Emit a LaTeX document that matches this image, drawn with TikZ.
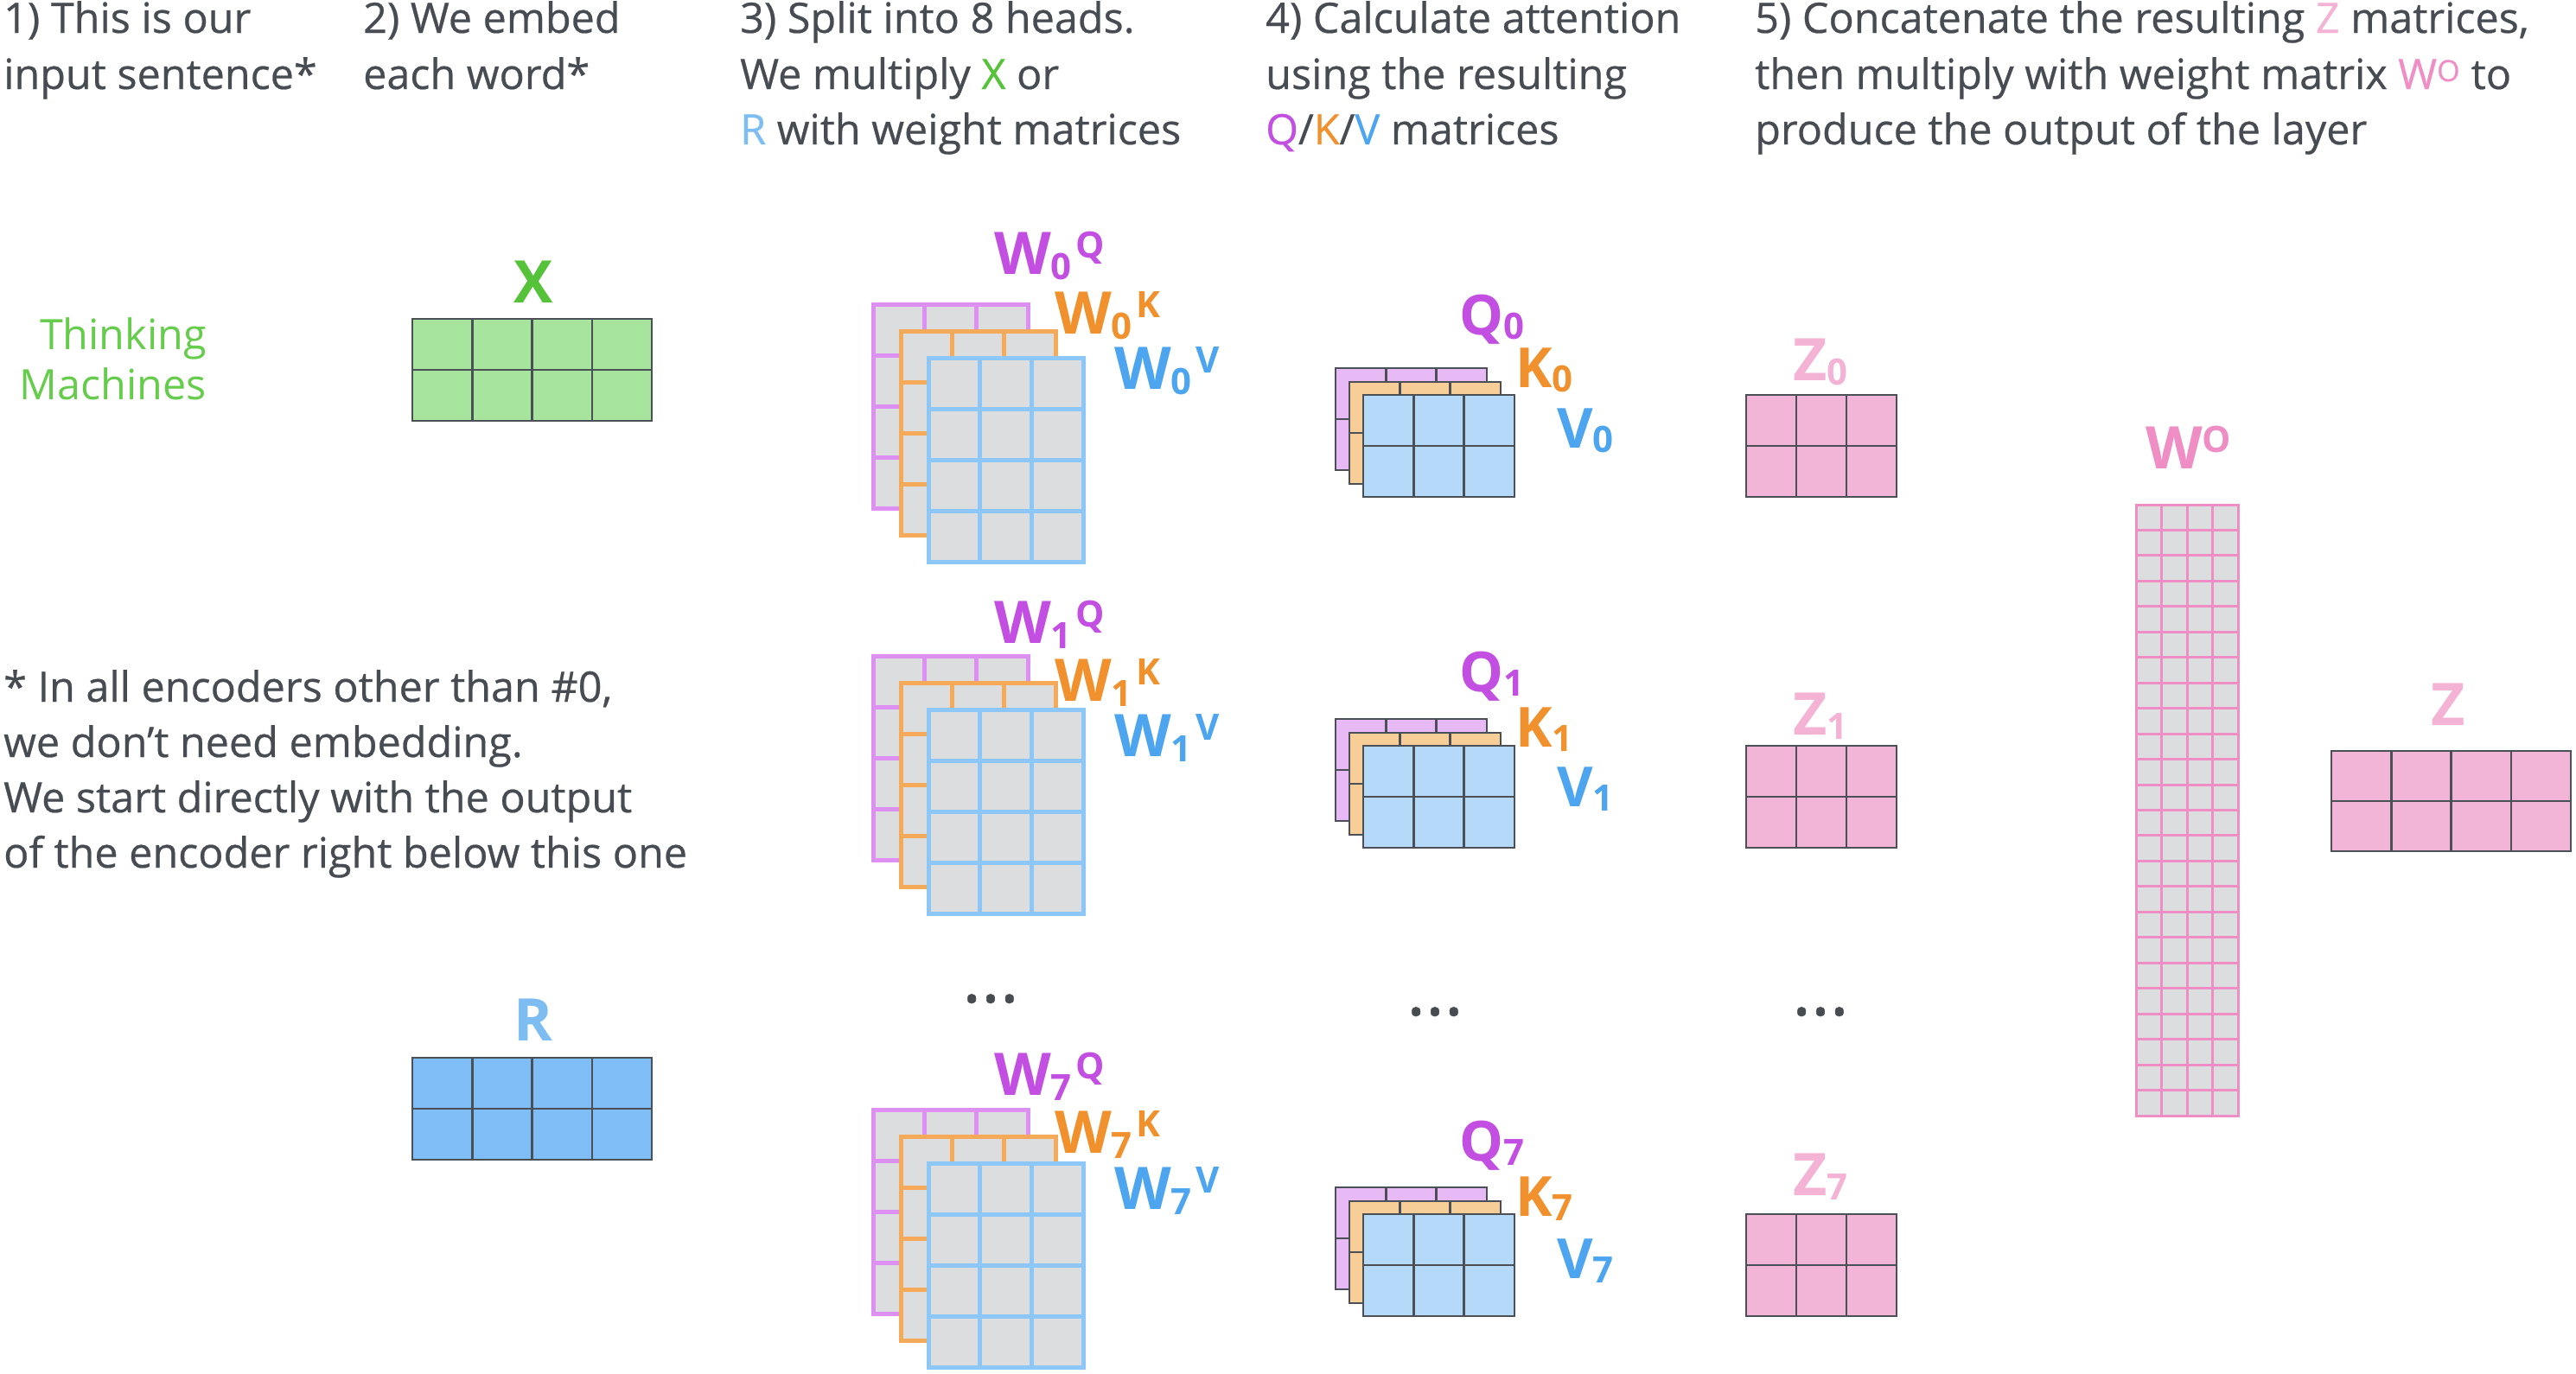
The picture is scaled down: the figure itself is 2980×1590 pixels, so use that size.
\documentclass[tikz,border=0pt]{standalone}
\usepackage{fontspec}
\setmainfont{Open Sans}
\newfontfamily\bodyfont{Open Sans}[FakeBold=0.5]
\definecolor{txt}{HTML}{474B52}
\definecolor{tgreen}{HTML}{66CC4C}
\definecolor{xgreen}{HTML}{55C23A}
\definecolor{xfill}{HTML}{A7E49D}
\definecolor{rfill}{HTML}{7FBDF6}
\definecolor{rlabel}{HTML}{7DBDF2}
\definecolor{cpur}{HTML}{C24FE2}
\definecolor{cora}{HTML}{F0912E}
\definecolor{cblu}{HTML}{4DA5F0}
\definecolor{spur}{HTML}{DE8FF2}
\definecolor{sora}{HTML}{F5AA5A}
\definecolor{sblu}{HTML}{8DC7F7}
\definecolor{wgray}{HTML}{DCDDDF}
\definecolor{fpur}{HTML}{E7B9F5}
\definecolor{fora}{HTML}{F8CE98}
\definecolor{fblu}{HTML}{B4D9F9}
\definecolor{zfill}{HTML}{F3B5D7}
\definecolor{zlab}{HTML}{F4B3D4}
\definecolor{wopink}{HTML}{EF8DC5}
\definecolor{gridc}{HTML}{4B4F56}
\newcommand{\mygrid}[9]{%
  \fill[#7] (#1,#2) rectangle ++(#3,#4);
  \pgfmathtruncatemacro{\ncm}{#5-1}%
  \pgfmathtruncatemacro{\nrm}{#6-1}%
  \foreach \ii in {1,...,\ncm}{\draw[#8,line width=#9] ({#1+\ii*(#3)/(#5)},{#2}) -- ++(0,#4);}%
  \foreach \jj in {1,...,\nrm}{\draw[#8,line width=#9] ({#1},{#2+\jj*(#4)/(#6)}) -- ++(#3,0);}%
  \draw[#8,line width=#9] (#1,#2) rectangle ++(#3,#4);}
\newcommand{\wstack}[1]{%
  \mygrid{1010}{#1}{179}{236}{3}{4}{wgray}{spur}{5pt}
  \mygrid{1042}{#1+31}{179}{236}{3}{4}{wgray}{sora}{5pt}
  \mygrid{1074}{#1+62}{179}{236}{3}{4}{wgray}{sblu}{5pt}}
\newcommand{\qstack}[1]{%
  \mygrid{1545}{#1}{175}{118}{3}{2}{fpur}{gridc}{2.5pt}
  \mygrid{1561}{#1+16}{175}{118}{3}{2}{fora}{gridc}{2.5pt}
  \mygrid{1577}{#1+31}{175}{118}{3}{2}{fblu}{gridc}{2.5pt}}
\newcommand{\wlab}[2]{W\raisebox{-6pt}{\fontsize{42}{42}\selectfont #1}\hspace{5pt}\raisebox{19pt}{\fontsize{42}{42}\selectfont #2}}
\newcommand{\sublab}[2]{#1\raisebox{-5pt}{\fontsize{42}{42}\selectfont #2}}
\begin{document}
\begin{tikzpicture}[x=1pt,y=-1pt,
  hdr/.style={anchor=base west,inner sep=0,text=txt,font=\bodyfont\fontsize{48.5}{64}\selectfont},
  lbl/.style={anchor=base west,inner sep=0,font=\fontsize{68}{68}\selectfont\bfseries},
  qlbl/.style={lbl,font=\fontsize{64}{64}\selectfont\bfseries},
  dots/.style={anchor=base,inner sep=0,text=txt,font=\bodyfont\fontsize{82}{82}\selectfont}]
\useasboundingbox (0,0) rectangle (2980,1590);
% headers
\node[hdr] (h1a) at (4,38) {1) This is our};
\node[hdr] (h1b) at (4,103) {input sentence*};
\node[hdr] (h2a) at (420,38) {2) We embed};
\node[hdr] (h2b) at (420,103) {each word*};
\node[hdr] (h3a) at (856,38) {3) Split into 8 heads.};
\node[hdr] (h3b) at (856,103) {We multiply \textcolor{xgreen}{X} or};
\node[hdr] (h3c) at (856,167) {\textcolor{rlabel}{R} with weight matrices};
\node[hdr] (h4a) at (1464,38) {4) Calculate attention};
\node[hdr] (h4b) at (1464,103) {using the resulting};
\node[hdr] (h4c) at (1464,167) {\textcolor{cpur}{Q}/\textcolor{cora}{K}/\textcolor{cblu}{V} matrices};
\node[hdr] (h5a) at (2030,38) {5) Concatenate the resulting \textcolor{zlab}{Z} matrices,};
\node[hdr] (h5b) at (2030,103) {then multiply with weight matrix \textcolor{wopink}{W\textsuperscript{O}} to};
\node[hdr] (h5c) at (2030,167) {produce the output of the layer};
% footnote
\node[hdr] (f1) at (4,812) {* In all encoders other than \#0,};
\node[hdr] (f2) at (4,876) {we don’t need embedding.};
\node[hdr] (f3) at (4,940) {We start directly with the output};
\node[hdr] (f4) at (4,1004) {of the encoder right below this one};
% input words
\node[anchor=base east,inner sep=0,text=tgreen,font=\fontsize{48.5}{64}\selectfont] (t1) at (239,404) {Thinking};
\node[anchor=base east,inner sep=0,text=tgreen,font=\fontsize{48.5}{64}\selectfont] (t2) at (239,462) {Machines};
% X and R
\mygrid{477}{369}{277}{118}{4}{2}{xfill}{gridc}{2.5pt}
\node[lbl,anchor=base,text=xgreen] (xl) at (617,350) {X};
\mygrid{477}{1224}{277}{118}{4}{2}{rfill}{gridc}{2.5pt}
\node[lbl,anchor=base,text=rlabel] (rl) at (617,1204) {R};
% weight stacks
\wstack{352}
\wstack{759}
\wstack{1284}
\node[lbl,text=cpur] (wq0) at (1150,317) {\wlab{0}{Q}};
\node[lbl,text=cora] (wk0) at (1220,386) {\wlab{0}{K}};
\node[lbl,text=cblu] (wv0) at (1289,450) {\wlab{0}{V}};
\node[lbl,text=cpur] (wq1) at (1150,744) {\wlab{1}{Q}};
\node[lbl,text=cora] (wk1) at (1220,811) {\wlab{1}{K}};
\node[lbl,text=cblu] (wv1) at (1289,875) {\wlab{1}{V}};
\node[lbl,text=cpur] (wq7) at (1150,1267) {\wlab{7}{Q}};
\node[lbl,text=cora] (wk7) at (1220,1334) {\wlab{7}{K}};
\node[lbl,text=cblu] (wv7) at (1289,1399) {\wlab{7}{V}};
\node[dots] (d1) at (1146,1160) {...};
% QKV stacks
\qstack{426}
\qstack{832}
\qstack{1374}
\node[qlbl,text=cpur] (q0) at (1688,387) {\sublab{Q}{0}};
\node[qlbl,text=cora] (k0) at (1753,448) {\sublab{K}{0}};
\node[qlbl,text=cblu] (v0) at (1801,518) {\sublab{V}{0}};
\node[qlbl,text=cpur] (q1) at (1688,800) {\sublab{Q}{1}};
\node[qlbl,text=cora] (k1) at (1753,864) {\sublab{K}{1}};
\node[qlbl,text=cblu] (v1) at (1801,933) {\sublab{V}{1}};
\node[qlbl,text=cpur] (q7) at (1688,1343) {\sublab{Q}{7}};
\node[qlbl,text=cora] (k7) at (1753,1407) {\sublab{K}{7}};
\node[qlbl,text=cblu] (v7) at (1801,1479) {\sublab{V}{7}};
\node[dots] (d2) at (1660,1175) {...};
% Z matrices
\mygrid{2020}{457}{174}{118}{3}{2}{zfill}{gridc}{2.5pt}
\mygrid{2020}{863}{174}{118}{3}{2}{zfill}{gridc}{2.5pt}
\mygrid{2020}{1405}{174}{118}{3}{2}{zfill}{gridc}{2.5pt}
\node[lbl,text=zlab] (z0l) at (2074,440) {\sublab{Z}{0}};
\node[lbl,text=zlab] (z1l) at (2074,850) {\sublab{Z}{1}};
\node[lbl,text=zlab] (z7l) at (2074,1383) {\sublab{Z}{7}};
\node[dots] (d3) at (2106,1175) {...};
% W^O
\mygrid{2471}{584}{118}{707}{4}{24}{wgray}{wopink}{3pt}
\node[lbl,text=wopink] (wol) at (2482,542) {W\raisebox{19pt}{\fontsize{42}{42}\selectfont O}};
% final Z
\mygrid{2697}{869}{277}{116}{4}{2}{zfill}{gridc}{2.5pt}
\node[lbl,anchor=base,text=zlab] (zl) at (2832,839) {Z};
\end{tikzpicture}
\end{document}
